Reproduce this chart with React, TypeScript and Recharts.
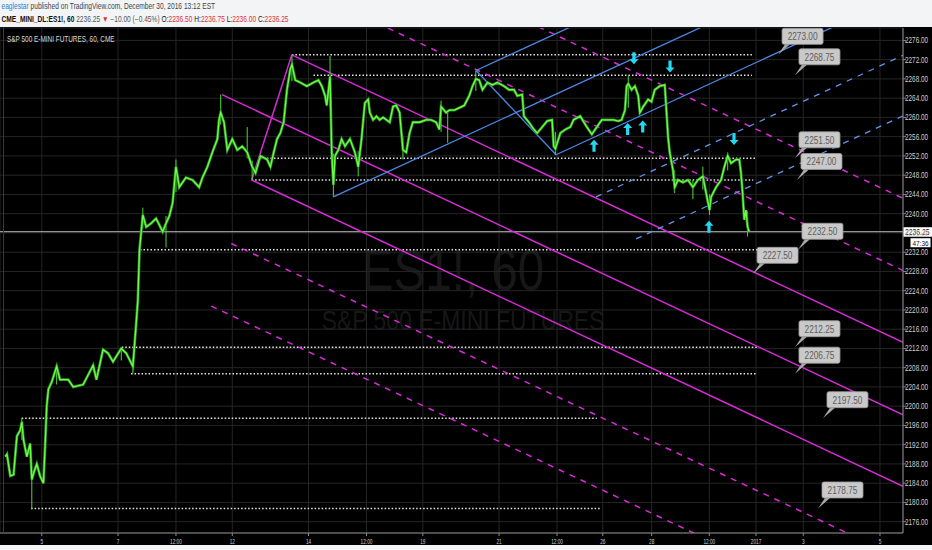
import React from 'react';
import { ComposedChart, Line, XAxis, YAxis, CartesianGrid, ReferenceLine, ReferenceDot } from 'recharts';

// x = hourly bar index (0 = Mon Dec 5 00:00), y = price
const xTickValues = [0, 46, 81, 115, 161, 196, 230, 276, 311, 338.6, 368.1, 402.9, 431.1, 459.6, 505.9];
const xTickLabels = ['5', '7', '12:00', '12', '14', '12:00', '19', '21', '12:00', '26', '28', '12:00', '2017', '3', '5'];
const yTickValues = [2176, 2180, 2184, 2188, 2192, 2196, 2200, 2204, 2208, 2212, 2216, 2220, 2224, 2228, 2232, 2236, 2240, 2244, 2248, 2252, 2256, 2260, 2264, 2268, 2272, 2276];

const closes: [number, number][] = [
  [-22, 2189.5], [-21, 2190], [-19, 2185.5], [-17, 2185.75], [-15, 2193.75], [-13, 2195], [-12, 2196.75], [-11, 2193],
  [-9, 2189.5], [-7, 2192.25], [-6, 2184.75], [-5, 2186], [-3, 2188], [-1, 2185.5], [1, 2184], [2, 2191.5], [3, 2200],
  [4, 2203.5], [6, 2205], [9, 2208.25], [11, 2205.5], [16, 2205.5], [19, 2204], [25, 2204.5], [31, 2208.5], [33, 2205.5],
  [37, 2211.75], [40, 2211], [43, 2209.25], [48, 2212], [51, 2211], [55, 2208.25], [57, 2217.25], [58, 2222], [59, 2232.5],
  [61, 2239.75], [63, 2237.25], [66, 2238], [69, 2239], [73, 2236.25], [75, 2238], [77, 2239.5], [79, 2242.25], [81, 2249.75],
  [83, 2245.5], [87, 2247.5], [91, 2247], [95, 2245.5], [97, 2247.5], [100, 2249.75], [103, 2252.75], [106, 2255.5],
  [107, 2259.5], [108, 2261], [110, 2259], [112, 2253.25], [115, 2255.5], [118, 2253.25], [121, 2254], [124, 2252.75],
  [127, 2249.75], [129, 2248.5], [132, 2252], [136, 2251.25], [138, 2249.75], [140, 2252.75], [142, 2255.5], [144, 2256.75],
  [146, 2259], [148, 2265.75], [150, 2270], [151, 2271], [153, 2267.75], [156, 2267.25], [160, 2266.5], [164, 2267.25],
  [167, 2267.75], [169, 2266.5], [171, 2264.5], [172, 2262.5], [174, 2268.5], [175, 2252.75], [176, 2246], [177, 2252],
  [179, 2253.25], [181, 2255.5], [183, 2254], [186, 2255.5], [189, 2252.75], [191, 2249.75], [193, 2255.5], [195, 2263],
  [197, 2263.75], [198, 2261], [200, 2259.5], [202, 2260.25], [204, 2259.5], [206, 2260], [208, 2259.5], [210, 2259],
  [212, 2262.25], [214, 2262.5], [216, 2261], [218, 2253.25], [220, 2252.75], [222, 2256.75], [224, 2259], [228, 2259],
  [232, 2259.5], [235, 2259.5], [238, 2259], [240, 2257.5], [241, 2262.25], [244, 2261], [246, 2261.5], [249, 2261.5],
  [252, 2262], [255, 2262.5], [258, 2264.5], [260, 2266.5], [262, 2268], [264, 2267.75], [266, 2265.75], [269, 2267.25],
  [272, 2266.75], [275, 2267.25], [279, 2266.5], [282, 2265.75], [285, 2265.75], [287, 2264.5], [290, 2264.75], [291, 2260.25],
  [294, 2259], [297, 2257.5], [299, 2256.75], [302, 2258], [305, 2259.25], [308, 2259.5], [309, 2254], [310, 2253.5],
  [313, 2256.75], [316, 2257.5], [319, 2258], [321, 2259.5], [325, 2260.25], [329, 2258], [332, 2256.5], [335, 2258],
  [338, 2259.5], [341, 2259.5], [345, 2259.5], [348, 2259.25], [350, 2259.5], [352, 2261.5], [353, 2266.5], [354, 2267],
  [356, 2265.75], [358, 2266.5], [360, 2264.5], [361, 2261], [363, 2262.25], [366, 2263.75], [368, 2263.25], [370, 2265.75],
  [373, 2266.5], [376, 2266.75], [377, 2261.5], [378, 2256], [379, 2252.75], [381, 2249], [382, 2245.5], [384, 2247],
  [387, 2246.5], [390, 2247], [393, 2245.5], [396, 2247], [399, 2247.75], [401, 2244.25], [403, 2240.75], [404, 2243.5],
  [407, 2245.5], [410, 2247], [412, 2249.75], [414, 2252], [416, 2250.5], [419, 2251.25], [421, 2251.25], [422, 2248.5],
  [423, 2244.25], [424, 2238.75], [425, 2240.75], [426, 2237.25], [427, 2236.25],
];

// [bar, low, high]
const wicks: [number, number, number][] = [
  [-12, 2193, 2197.5], [-6, 2178.75, 2186], [9, 2204.5, 2208.25], [48, 2209.5, 2212.25], [55, 2206.75, 2209.5],
  [61, 2237, 2241.25], [75, 2233, 2239.5], [81, 2244.5, 2251.25], [108, 2258.5, 2264.75], [124, 2251.5, 2258],
  [127, 2247, 2251], [151, 2267.5, 2273], [174, 2262, 2272.75], [176, 2243.5, 2252.5], [191, 2247.75, 2253],
  [218, 2251.25, 2256], [241, 2257, 2263.5], [245, 2254.75, 2261.5], [262, 2265.5, 2269.75], [310, 2252.25, 2257],
  [354, 2262, 2268.75], [382, 2244.25, 2249], [393, 2243, 2247], [399, 2245, 2249.75], [403, 2239.75, 2244],
  [414, 2249, 2252.75], [426, 2235.25, 2240.5],
];

// horizontal dotted levels: [price, fromBar, toBar]
const levels: [number, number, number][] = [
  [2273, 151, 429.3], [2268.75, 164, 428.6], [2251.5, 131.7, 430.5], [2247, 126.7, 429.4], [2232.5, 59.3, 431.7],
  [2212.25, 48.3, 431.7], [2206.75, 53.9, 431.7], [2197.5, -12.1, 335], [2178.75, -6.4, 337],
];

// trend lines: [bar0, price0, bar1, price1]
const magentaSolid: [number, number, number, number][] = [
  [108.8, 2264.75, 519.8, 2198.2], [150.9, 2273, 519.8, 2213.27], [126.7, 2247, 519.8, 2183.36], [126.7, 2247, 150.9, 2273],
];
const magentaDashed: [number, number, number, number][] = [
  [163.0, 2286.0, 519.8, 2228.2], [175.1, 2299.0, 519.8, 2243.2], [114.4, 2233.8, 519.8, 2168.2], [102.3, 2220.8, 519.8, 2153.2],
];
const blueSolid: [number, number, number, number][] = [
  [176.0, 2243.5, 519.8, 2298.06], [262.1, 2269.75, 519.8, 2310.65], [310.4, 2252.25, 519.8, 2285.48], [262.1, 2269.75, 310.4, 2252.25],
];
const blueDashed: [number, number, number, number][] = [
  [334.55, 2243.5, 519.8, 2272.9], [358.7, 2234.76, 519.8, 2260.32],
];

// arrows: [bar, price, direction 1=up -1=down]
const arrows: [number, number, number][] = [
  [357.4, 2272.3, -1], [379.2, 2270.6, -1], [333.3, 2254.1, 1], [353.6, 2257.6, 1], [362.7, 2258.1, 1],
  [417.8, 2255.5, -1], [402.7, 2237.3, 1],
];

// price callouts: [bar, price]
const callouts: [number, number][] = [
  [444.4, 2273.0], [454.6, 2268.75], [454.6, 2251.5], [455.8, 2247.0], [456.4, 2232.5], [429.3, 2227.5],
  [454.6, 2212.25], [454.6, 2206.75], [471.5, 2197.5], [468.5, 2178.75],
];

const lastPrice = 2236.25;
const countdown = '47:36';
const xDomain: [number, number] = [-25.2, 519.8];
const yDomain: [number, number] = [2173.65, 2278.58];

const priceData = closes.map(([t, c]) => ({ t, c }));

const FONT = 'Liberation Sans, Arial, sans-serif';
const MAGENTA = '#d92bd9';
const BLUE = '#4d88e6';
const CYAN = '#22d8f2';

const YTick = (props: any) => {
  const { x, y, payload } = props;
  return (
    <g transform={`translate(${x - 1},${y + 3}) scale(0.71,1)`}>
      <text x={0} y={0} fill="#cfcfcf" fontSize={9} fontFamily={FONT}>
        {Number(payload.value).toFixed(2)}
      </text>
    </g>
  );
};

const XTick = (props: any) => {
  const { x, y, payload } = props;
  const idx = xTickValues.indexOf(payload.value);
  const label = xTickLabels[idx] ?? '';
  return (
    <g transform={`translate(${x},${y + 7.5}) scale(0.59,1)`}>
      <text x={0} y={0} fill="#cfcfcf" fontSize={8} fontFamily={FONT} textAnchor="middle">
        {label}
      </text>
    </g>
  );
};

const ArrowShape = (dir: number) => (props: any) => {
  const { cx, cy } = props;
  const s = -dir;
  const pts = [
    [cx, cy + s * 6], [cx + 4.5, cy + s * 1], [cx + 1.6, cy + s * 1], [cx + 1.6, cy - s * 6],
    [cx - 1.6, cy - s * 6], [cx - 1.6, cy + s * 1], [cx - 4.5, cy + s * 1],
  ].map((p) => p.join(',')).join(' ');
  return <polygon points={pts} fill={CYAN} />;
};

const CalloutShape = (price: number) => (props: any) => {
  const { cx, cy } = props;
  const bottom = cy - 10.5;
  const top = bottom - 16;
  const left = cx + 4;
  return (
    <g>
      <polygon points={`${cx},${cy} ${cx + 7},${bottom} ${cx + 12},${bottom}`} fill="#a8a8a8" />
      <rect x={left} y={top} width={41} height={16} rx={2} fill="#c9c9c9" stroke="#9a9a9a" strokeWidth={0.8} />
      <g transform={`translate(${left + 20.5},${top + 12}) scale(0.75,1)`}>
        <text x={0} y={0} textAnchor="middle" fill="#5e5e5e" fontSize={11} fontFamily={FONT}>
          {price.toFixed(2)}
        </text>
      </g>
    </g>
  );
};

const LastPriceShape = (props: any) => {
  const { cx, cy } = props;
  return (
    <g>
      <rect x={cx + 0.5} y={cy - 4.5} width={28.5} height={9.5} fill="#ffffff" />
      <g transform={`translate(${cx + 2},${cy + 3}) scale(0.8,1)`}>
        <text x={0} y={0} fill="#111" fontSize={8.5} fontFamily={FONT}>{lastPrice.toFixed(2)}</text>
      </g>
      <rect x={cx + 7.5} y={cy + 6.5} width={20} height={9} fill="#ffffff" />
      <g transform={`translate(${cx + 9.5},${cy + 14}) scale(0.8,1)`}>
        <text x={0} y={0} fill="#111" fontSize={8} fontFamily={FONT}>{countdown}</text>
      </g>
    </g>
  );
};

export default function App() {
  return (
    <div style={{ position: 'absolute', left: 0, top: 0, width: 932, height: 550, background: '#000', overflow: 'hidden', fontFamily: FONT }}>
      {/* watermark */}
      <svg width={932} height={550} style={{ position: 'absolute', left: 0, top: 0 }}>
        <g transform="translate(453,290) scale(0.82,1)">
          <text x={0} y={0} textAnchor="middle" fill="#171717" fontSize={58} fontFamily={FONT}>ES1!, 60</text>
        </g>
        <g transform="translate(463,330) scale(0.82,1)">
          <text x={0} y={0} textAnchor="middle" fill="#171717" fontSize={28} fontFamily={FONT}>S&amp;P 500 E-MINI FUTURES</text>
        </g>
      </svg>
      <div style={{ position: 'absolute', left: 0, top: 0 }}>
        <ComposedChart width={932} height={550} data={priceData} margin={{ top: 28, right: 0, bottom: 0, left: 0 }}>
          <CartesianGrid stroke="#252525" strokeWidth={1} />
          <XAxis dataKey="t" type="number" domain={xDomain} allowDataOverflow ticks={xTickValues} interval={0}
            height={17} tickSize={3} tickMargin={0} stroke="#8a8a8a" tick={<XTick />} />
          <YAxis type="number" orientation="right" domain={yDomain} allowDataOverflow ticks={yTickValues} interval={0}
            width={29} tickSize={3} tickMargin={0} stroke="#8a8a8a" tick={<YTick />} />
          {callouts.map(([t, p], i) => (
            <ReferenceDot key={`co${i}`} x={t} y={p} ifOverflow="visible" shape={CalloutShape(p)} />
          ))}
          {levels.map(([p, t0, t1], i) => (
            <ReferenceLine key={`lv${i}`} segment={[{ x: t0, y: p }, { x: t1, y: p }]} stroke="#e6e6e6"
              strokeWidth={1.5} strokeDasharray="1.5 2" ifOverflow="hidden" />
          ))}
          <ReferenceLine y={lastPrice} stroke="#bcbcbc" strokeWidth={1} />
          {magentaDashed.map(([a, b, c, d], i) => (
            <ReferenceLine key={`md${i}`} segment={[{ x: a, y: b }, { x: c, y: d }]} stroke={MAGENTA}
              strokeWidth={1.5} strokeDasharray="6 6" ifOverflow="hidden" />
          ))}
          {magentaSolid.map(([a, b, c, d], i) => (
            <ReferenceLine key={`ms${i}`} segment={[{ x: a, y: b }, { x: c, y: d }]} stroke={MAGENTA}
              strokeWidth={1.5} ifOverflow="hidden" />
          ))}
          {blueDashed.map(([a, b, c, d], i) => (
            <ReferenceLine key={`bd${i}`} segment={[{ x: a, y: b }, { x: c, y: d }]} stroke="#5f95ef"
              strokeWidth={1.3} strokeDasharray="6 6" ifOverflow="hidden" />
          ))}
          {blueSolid.map(([a, b, c, d], i) => (
            <ReferenceLine key={`bs${i}`} segment={[{ x: a, y: b }, { x: c, y: d }]} stroke={BLUE}
              strokeWidth={1.3} ifOverflow="hidden" />
          ))}
          {wicks.map(([t, l, h], i) => (
            <ReferenceLine key={`wk${i}`} segment={[{ x: t, y: l }, { x: t, y: h }]} stroke="#4fd83a"
              strokeWidth={1} ifOverflow="hidden" />
          ))}
          <Line dataKey="c" type="linear" dot={false} isAnimationActive={false} stroke="#2c8f26" strokeWidth={2.8} />
          <Line dataKey="c" type="linear" dot={false} isAnimationActive={false} stroke="#6dff45" strokeWidth={1.3} />
          {arrows.map(([t, p, dir], i) => (
            <ReferenceDot key={`ar${i}`} x={t} y={p} ifOverflow="visible" shape={ArrowShape(dir)} />
          ))}
          <ReferenceDot x={xDomain[1]} y={lastPrice} ifOverflow="visible" shape={LastPriceShape} />
        </ComposedChart>
      </div>
      {/* left border */}
      <div style={{ position: 'absolute', left: 3, top: 28, width: 1, height: 505, background: '#3a3a3a' }} />
      {/* panel title */}
      <svg width={200} height={20} style={{ position: 'absolute', left: 0, top: 30 }}>
        <g transform="translate(7,12) scale(0.757,1)">
          <text x={0} y={0} fill="#d6d6d6" fontSize={8.5} fontFamily={FONT}>S&amp;P 500 E-MINI FUTURES, 60, CME</text>
        </g>
      </svg>
      {/* header */}
      <div style={{ position: 'absolute', left: 0, top: 0, width: 932, height: 27, background: '#f3f4f6' }}>
        <svg width={932} height={27}>
          <g transform="translate(1.5,9) scale(0.78,1)">
            <text x={0} y={0} fontSize={8.5} fontFamily={FONT} fill="#444">
              <tspan fill="#2f7bd0">eaglestar</tspan> published on TradingView.com, December 30, 2016 13:12 EST
            </text>
          </g>
          <g transform="translate(1.5,22) scale(0.78,1)">
            <text x={0} y={0} fontSize={8.5} fontFamily={FONT} fill="#555">
              <tspan fill="#111" fontWeight="bold">CME_MINI_DL:ES1!, 60</tspan> 2236.25 <tspan fill="#e0312f">▼</tspan> −10.00 (−0.45%) <tspan fill="#111">O:</tspan><tspan fill="#e0312f">2236.50</tspan> <tspan fill="#111">H:</tspan><tspan fill="#e0312f">2236.75</tspan> <tspan fill="#111">L:</tspan><tspan fill="#e0312f">2236.00</tspan> <tspan fill="#111">C:</tspan><tspan fill="#e0312f">2236.25</tspan>
            </text>
          </g>
        </svg>
      </div>
      {/* bottom strip */}
      <div style={{ position: 'absolute', left: 0, top: 545, width: 932, height: 5, background: '#f3f4f6' }} />
    </div>
  );
}
